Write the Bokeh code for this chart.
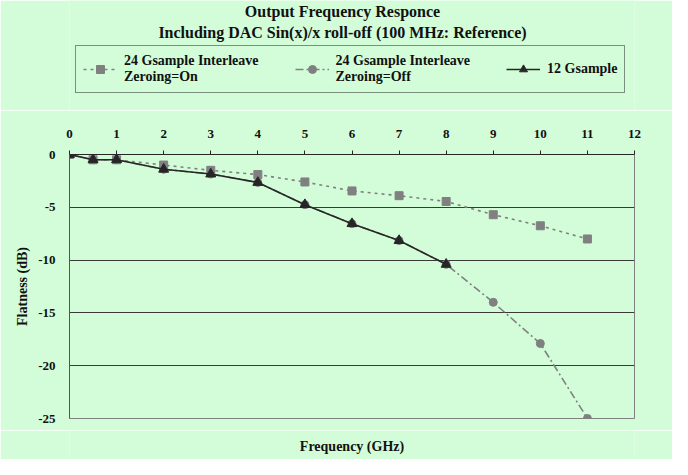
from bokeh.plotting import figure
from bokeh.layouts import column
from bokeh.models import Legend, LegendItem, FixedTicker, Range1d, Label
from bokeh.embed import file_html
from bokeh.resources import INLINE

# ---- data ----
freq = [0, 0.5, 1, 2, 3, 4, 5, 6, 7, 8, 9, 10, 11]
zeroing_on = [0, -0.5, -0.5, -1.0, -1.5, -1.9, -2.6, -3.45, -3.9, -4.45, -5.7, -6.75, -8.0]
zeroing_off = [0, -0.5, -0.5, -1.4, -1.85, -2.65, -4.75, -6.55, -8.15, -10.4, -14.0, -17.9, -25.0]
freq_12g = [0, 0.5, 1, 2, 3, 4, 5, 6, 7, 8]
gs12 = [0, -0.5, -0.5, -1.4, -1.85, -2.65, -4.75, -6.55, -8.15, -10.4]

x_ticks = [0, 1, 2, 3, 4, 5, 6, 7, 8, 9, 10, 11, 12]
y_ticks = [0, -5, -10, -15, -20, -25]
y_tick_labels = ["0", "-5", "-10", "-15", "-20", "-25"]

title_1 = "Output Frequency Responce"
title_2 = "Including DAC Sin(x)/x roll-off (100 MHz: Reference)"
x_title = "Frequency (GHz)"
y_title = "Flatness (dB)"
series_names = ["24 Gsample Interleave\nZeroing=On",
                "24 Gsample Interleave\nZeroing=Off",
                "12 Gsample"]

BG = "#d3fdd8"
GRAY = "#808080"
DARK = "#262626"
TXT = "#111111"
SERIF = "Liberation Serif"

W = 672
HEAD_H = 110
MAIN_H = 320
FOOT_H = 29


def blank_fig(h, yr=(0, 1)):
    f = figure(width=W, height=h, output_backend="svg", toolbar_location=None,
               x_range=Range1d(0, 1), y_range=Range1d(*yr),
               x_axis_location=None, y_axis_location=None,
               min_border=0, min_border_left=0, min_border_right=0,
               min_border_top=0, min_border_bottom=0)
    f.background_fill_color = BG
    f.border_fill_color = BG
    f.outline_line_color = None
    f.grid.visible = False
    return f


# ---------- main chart ----------
p = figure(width=W, height=MAIN_H, output_backend="svg", toolbar_location=None,
           x_range=Range1d(0, 12), y_range=Range1d(-25, 0),
           x_axis_location="above",
           min_border_left=69, min_border_right=38, min_border_top=44, min_border_bottom=12)
p.background_fill_color = BG
p.border_fill_color = BG
p.outline_line_color = GRAY
p.outline_line_width = 1

xa = p.xaxis[0]
xa.ticker = FixedTicker(ticks=x_ticks)
xa.minor_tick_line_color = None
xa.major_tick_in = 0
xa.major_tick_out = 4
xa.major_tick_line_color = DARK
xa.axis_line_color = DARK
xa.major_label_standoff = 13
xa.major_label_text_font = SERIF
xa.major_label_text_font_style = "bold"
xa.major_label_text_font_size = "13px"
xa.major_label_text_color = TXT

ya = p.yaxis[0]
ya.ticker = FixedTicker(ticks=y_ticks)
ya.major_label_overrides = {t: s for t, s in zip(y_ticks, y_tick_labels)}
ya.minor_tick_line_color = None
ya.major_tick_in = 0
ya.major_tick_out = 0
ya.axis_line_color = "#555555"
ya.major_label_standoff = 14
ya.major_label_text_font = SERIF
ya.major_label_text_font_style = "bold"
ya.major_label_text_font_size = "13px"
ya.major_label_text_color = TXT
ya.axis_label = y_title
ya.axis_label_text_font = SERIF
ya.axis_label_text_font_style = "bold"
ya.axis_label_text_font_size = "14px"
ya.axis_label_text_color = TXT
ya.axis_label_standoff = 5

p.xgrid.grid_line_color = None
p.ygrid.ticker = FixedTicker(ticks=[-5, -10, -15, -20])
p.ygrid.grid_line_color = "#3a3a3a"
p.ygrid.grid_line_width = 1

STY_ON = dict(line_color=GRAY, line_width=1.6, line_dash="3 4")
STY_OFF = dict(line_color=GRAY, line_width=1.6, line_dash="8 3 2 3")
STY_12 = dict(line_color=DARK, line_width=1.6)
MK_ON = dict(marker="square", size=8, fill_color=GRAY, line_color=GRAY)
MK_OFF = dict(marker="circle", size=8, fill_color=GRAY, line_color=GRAY)
MK_12 = dict(marker="triangle", size=10, fill_color=DARK, line_color=DARK)

p.line(freq, zeroing_on, **STY_ON)
p.scatter(freq, zeroing_on, **MK_ON)
p.line(freq, zeroing_off, **STY_OFF)
p.scatter(freq, zeroing_off, **MK_OFF)
p.line(freq_12g, gs12, **STY_12)
p.scatter(freq_12g, gs12, **MK_12)

# ---------- header: titles + legend ----------
# header y-range lies far from the data, so the key's series renderers draw nothing in view
head = blank_fig(HEAD_H, yr=(100, 101))
for txt, yy in [(title_1, HEAD_H - 11), (title_2, HEAD_H - 32)]:
    head.add_layout(Label(x=273, y=yy, x_units="screen", y_units="screen", text=txt,
                          text_align="center", text_baseline="middle",
                          text_font=SERIF, text_font_style="bold", text_font_size="16px",
                          text_color=TXT))

k_on = [head.line(freq, zeroing_on, **STY_ON), head.scatter(freq, zeroing_on, **MK_ON)]
k_off = [head.line(freq, zeroing_off, **STY_OFF), head.scatter(freq, zeroing_off, **MK_OFF)]
k_12 = [head.line(freq_12g, gs12, **STY_12), head.scatter(freq_12g, gs12, **MK_12)]

legend = Legend(items=[
    LegendItem(label=series_names[0], renderers=k_on),
    LegendItem(label=series_names[1], renderers=k_off),
    LegendItem(label=series_names[2], renderers=k_12),
], orientation="horizontal", location=(6, HEAD_H - 93))
legend.background_fill_color = BG
legend.background_fill_alpha = 1
legend.border_line_color = "#222222"
legend.border_line_width = 1
legend.padding = 7
legend.spacing = 36
legend.glyph_width = 34
legend.label_standoff = 7
legend.label_text_font = SERIF
legend.label_text_font_style = "bold"
legend.label_text_font_size = "14px"
legend.label_text_color = TXT
legend.margin = 0
head.add_layout(legend, "center")

# ---------- footer: x-axis title ----------
foot = blank_fig(FOOT_H)
foot.add_layout(Label(x=282.5, y=FOOT_H - 16, x_units="screen", y_units="screen", text=x_title,
                      text_align="center", text_baseline="middle",
                      text_font=SERIF, text_font_style="bold", text_font_size="14px",
                      text_color=TXT))

layout = column(head, p, foot, spacing=0)

html = file_html(layout, INLINE)
html = html.replace("<body>", '<body style="background-color:%s;">' % BG, 1)
open("out.html", "w").write(html)
